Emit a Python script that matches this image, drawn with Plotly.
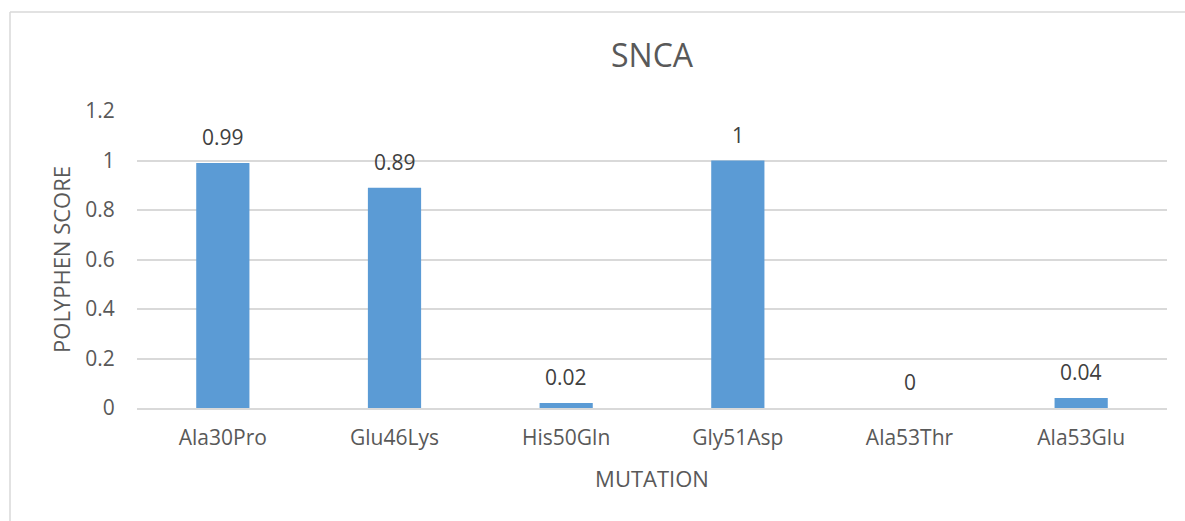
import plotly.graph_objects as go

categories = ["Ala30Pro", "Glu46Lys", "His50Gln", "Gly51Asp", "Ala53Thr", "Ala53Glu"]
scores = [0.99, 0.89, 0.02, 1, 0, 0.04]
labels = ["0.99", "0.89", "0.02", "1", "0", "0.04"]
y_ticks = [0, 0.2, 0.4, 0.6, 0.8, 1, 1.2]
y_ticktext = ["0", "0.2", "0.4", "0.6", "0.8", "1", "1.2"]

FONT = "Open Sans"
GREY = "#595959"

fig = go.Figure()
fig.add_trace(go.Bar(
    x=categories, y=scores, marker=dict(color="#5B9BD5", line=dict(width=0)),
    width=0.31, hoverinfo="x+y",
))

for c, v, t in zip(categories, scores, labels):
    fig.add_annotation(x=c, y=v, text=t, showarrow=False, yanchor="bottom",
                       yshift=10, font=dict(family=FONT, size=21, color="#404040"))

W, H = 1185, 521
L, R, T, B = 137, 18, 111, 113
pw, ph = W - L - R, H - T - B
x0 = (10 - L) / pw
y1 = 1 + (T - 12) / ph
fig.add_shape(type="line", xref="paper", yref="paper", x0=x0, x1=1.2, y0=y1, y1=y1,
              line=dict(color="#D9D9D9", width=1.5))
fig.add_shape(type="line", xref="paper", yref="paper", x0=x0, x1=x0, y0=y1, y1=-1,
              line=dict(color="#D9D9D9", width=1.5))

fig.update_layout(
    width=W, height=H,
    margin=dict(l=L, r=R, t=T, b=B),
    paper_bgcolor="white", plot_bgcolor="white",
    showlegend=False,
    title=dict(text="SNCA", x=0.5, xanchor="center", y=1 - 56 / H, yanchor="middle",
               xref="paper", font=dict(family=FONT, size=32, color=GREY)),
    font=dict(family=FONT, color=GREY, size=21),
    xaxis=dict(title=dict(text="MUTATION", font=dict(size=22, color=GREY), standoff=22),
               tickfont=dict(size=21, color=GREY), showgrid=False, showline=True,
               linecolor="#D9D9D9", linewidth=1.5, ticks="outside", ticklen=10,
               tickcolor="rgba(0,0,0,0)"),
    yaxis=dict(title=dict(text="POLYPHEN SCORE", font=dict(size=22, color=GREY), standoff=8),
               range=[0, 1.2], tickvals=y_ticks, ticktext=y_ticktext,
               tickfont=dict(size=21, color=GREY), showgrid=True, gridcolor="#D9D9D9",
               gridwidth=1.5, zeroline=False, ticks="outside", ticklen=17,
               tickcolor="rgba(0,0,0,0)"),
)

fig.write_html("out.html", config={"displayModeBar": False},
               post_script="document.body.style.margin='0';document.body.style.overflow='hidden';")
